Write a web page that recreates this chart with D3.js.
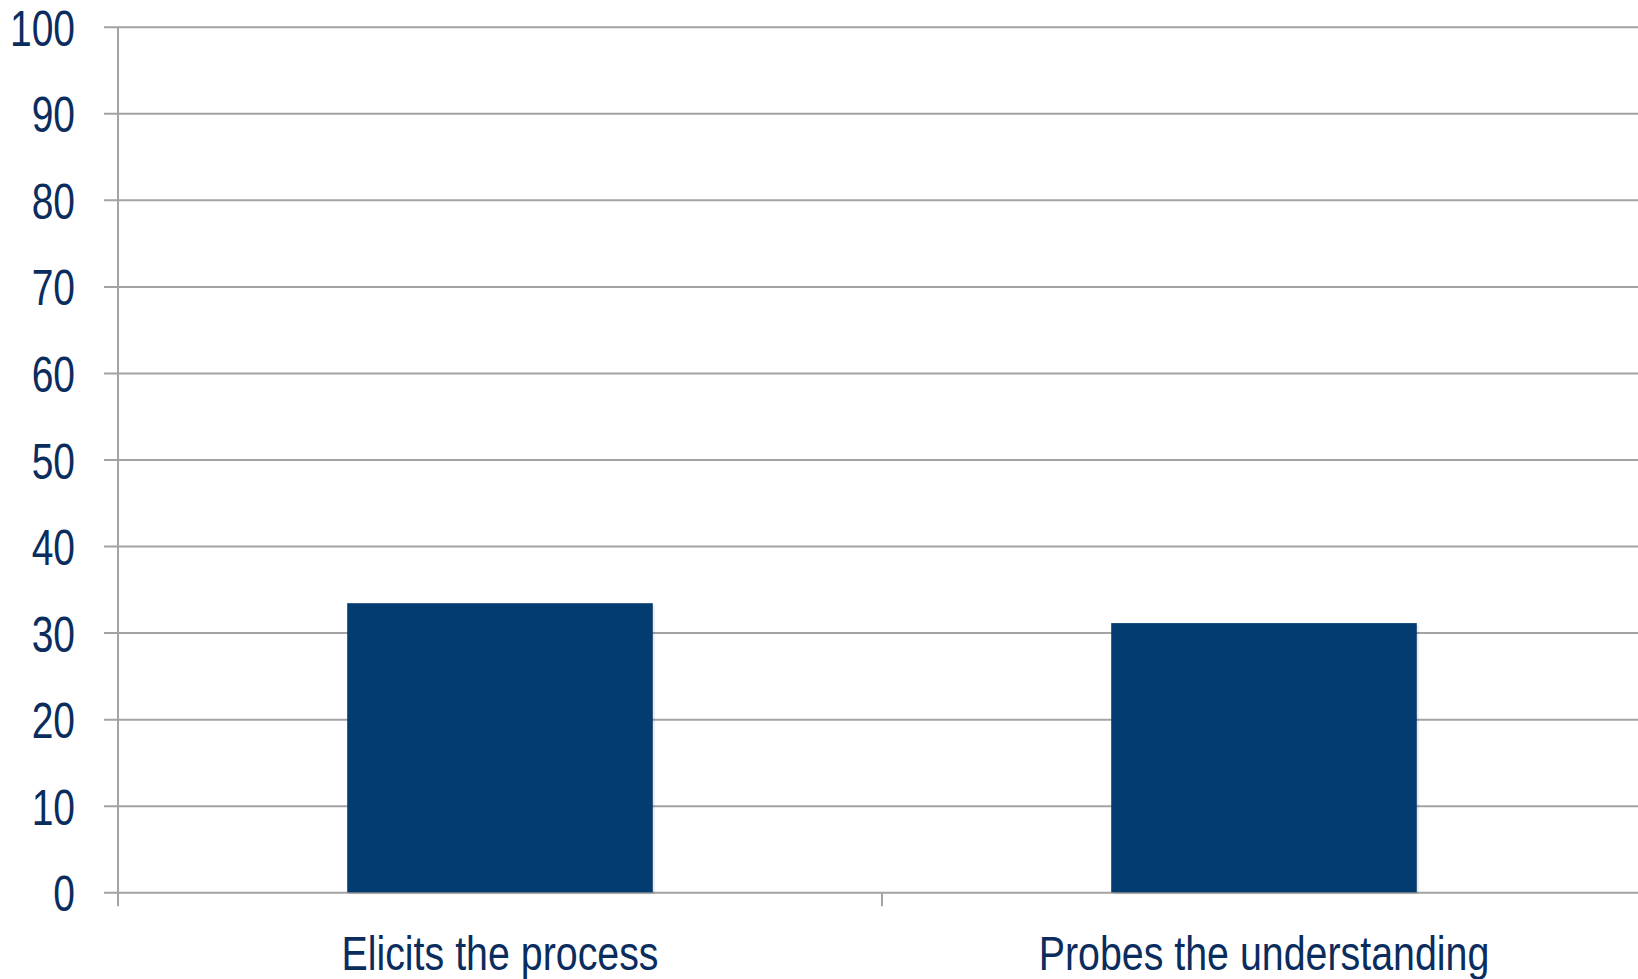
<!DOCTYPE html>
<html>
<head>
<meta charset="utf-8">
<script src="https://cdn.jsdelivr.net/npm/d3@7"></script>
<style>
  html, body { margin: 0; padding: 0; background: #ffffff; overflow: hidden; }
  svg { display: block; }
  .lbl { font-family: "Liberation Sans", Arial, sans-serif; fill: #0b2d5e; }
</style>
</head>
<body>
<svg id="chart" width="1638" height="979"></svg>
<script>
const categories = ["Elicits the process", "Probes the understanding"];
const values = [33.4, 31.1];
const yTicks = [0, 10, 20, 30, 40, 50, 60, 70, 80, 90, 100];

const svg = d3.select("#chart");
const plotLeft = 118, plotRight = 1646, plotTop = 26.7, plotBottom = 892.3;
const narrowTick = 0.78;
const narrowCat = 0.82;

const x = d3.scaleBand().domain(categories).range([plotLeft, plotRight]).paddingInner(0.6).paddingOuter(0.3);
const y = d3.scaleLinear().domain([0, 100]).range([plotBottom, plotTop]);

// gridlines + left ticks
const yAxis = d3.axisLeft(y).tickValues(yTicks).tickSize(-(plotRight - plotLeft)).tickSizeOuter(0);
const gy = svg.append("g").attr("transform", `translate(${plotLeft},0)`).call(yAxis);
gy.select(".domain").remove();
gy.selectAll(".tick line").attr("x1", -14).attr("stroke", "#a3a3a3").attr("stroke-width", 2);
gy.selectAll(".tick text")
  .attr("class", "lbl")
  .attr("font-size", 50)
  .attr("text-anchor", "end")
  .attr("dy", "0.37em")
  .attr("x", -43 / narrowTick)
  .attr("transform", `scale(${narrowTick},1)`);

// bars with slight shadow
svg.append("g").selectAll("rect").data(values).join("rect")
  .attr("x", (d, i) => x(categories[i]) + 2)
  .attr("y", d => y(d) + 2)
  .attr("width", x.bandwidth())
  .attr("height", d => y(0) - y(d))
  .attr("fill", "#000").attr("opacity", 0.08);
svg.append("g").selectAll("rect").data(values).join("rect")
  .attr("x", (d, i) => x(categories[i]))
  .attr("y", d => y(d))
  .attr("width", x.bandwidth())
  .attr("height", d => y(0) - y(d))
  .attr("fill", "#023c71");

// vertical axis line
svg.append("line").attr("x1", plotLeft).attr("x2", plotLeft).attr("y1", plotTop).attr("y2", plotBottom + 14)
  .attr("stroke", "#a3a3a3").attr("stroke-width", 2);
// category separator tick
const step = x.step();
const sepX = x(categories[1]) - x.paddingInner() * step / 2;
svg.append("line").attr("x1", sepX).attr("x2", sepX).attr("y1", plotBottom).attr("y2", plotBottom + 14)
  .attr("stroke", "#a3a3a3").attr("stroke-width", 2);

// category labels
svg.append("g").selectAll("g").data(categories).join("g")
  .attr("transform", d => `translate(${x(d) + x.bandwidth() / 2},970)`)
  .append("text")
  .attr("class", "lbl")
  .attr("text-anchor", "middle")
  .attr("font-size", 48)
  .attr("transform", `scale(${narrowCat},1)`)
  .text(d => d);
</script>
</body>
</html>
